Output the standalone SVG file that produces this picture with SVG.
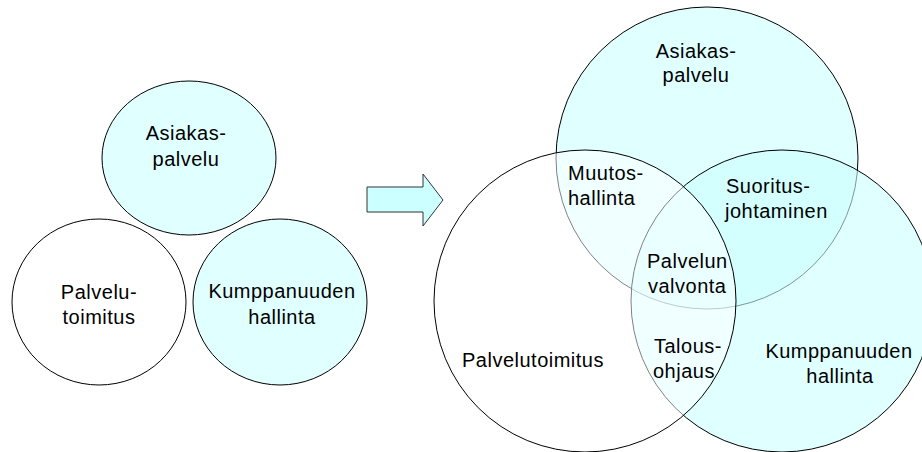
<svg xmlns="http://www.w3.org/2000/svg" width="922" height="452" viewBox="0 0 922 452">
<style>
text{font-family:"Liberation Sans",Arial,sans-serif;font-size:20px;letter-spacing:0.5px;fill:#000}
.c{text-anchor:middle}
.small{fill:#e0ffff;stroke:#000;stroke-width:1}
.white{fill:#fff;stroke:#000;stroke-width:1}
.cy{fill:#ccffff;fill-opacity:0.6;stroke:#000;stroke-width:1}
.wh{fill:#fff;fill-opacity:0.5;stroke:#000;stroke-width:1}
</style>
<rect width="922" height="452" fill="#fff"/>
<g id="small-asiakaspalvelu">
<ellipse class="small" cx="189" cy="158" rx="87" ry="77"/>
<text class="c" x="186" y="140">Asiakas-</text>
<text class="c" x="186" y="166">palvelu</text>
</g>
<g id="small-palvelutoimitus">
<ellipse class="white" cx="99" cy="302" rx="87" ry="83"/>
<text class="c" x="99" y="299">Palvelu-</text>
<text class="c" x="99" y="324">toimitus</text>
</g>
<g id="small-kumppanuus">
<ellipse class="small" cx="280" cy="302" rx="87" ry="83"/>
<text class="c" x="282" y="298">Kumppanuuden</text>
<text class="c" x="282" y="324">hallinta</text>
</g>
<g id="arrow">
<polygon points="367,187 423,187 423,174 443,200 423,226 423,212 367,212" fill="#ccffff" stroke="#333" stroke-width="1"/>
</g>
<g id="venn-asiakaspalvelu">
<circle class="cy" cx="707" cy="158" r="151"/>
</g>
<g id="venn-kumppanuus">
<circle class="cy" cx="782" cy="301" r="151"/>
</g>
<g id="venn-palvelutoimitus">
<circle class="wh" cx="585" cy="301" r="151"/>
</g>
<g id="labels">
<text class="c" x="696" y="58">Asiakas-</text>
<text class="c" x="696" y="82">palvelu</text>
<text x="568" y="180">Muutos-</text>
<text x="568" y="205">hallinta</text>
<text x="726" y="193">Suoritus-</text>
<text x="725" y="218">johtaminen</text>
<text x="647" y="268">Palvelun</text>
<text x="648" y="293">valvonta</text>
<text x="654" y="353">Talous-</text>
<text x="653" y="378">ohjaus</text>
<text class="c" x="533" y="367">Palvelutoimitus</text>
<text class="c" x="839" y="358">Kumppanuuden</text>
<text class="c" x="840" y="383">hallinta</text>
</g>
</svg>
